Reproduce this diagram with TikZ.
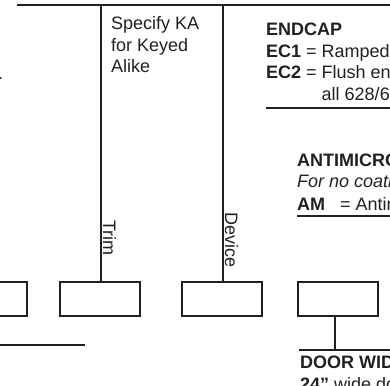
\documentclass[tikz,border=0pt]{standalone}
\usepackage{fontspec}
\setmainfont{Liberation Sans}
\definecolor{ink}{HTML}{231F20}

\tikzset{
  partbox/.style={draw=ink,line width=2pt,minimum width=80pt,minimum height=34pt,inner sep=0pt},
  lead/.style={ink,line width=2pt},
  note/.style={font=\fontsize{18}{21.7}\selectfont,text=ink,inner sep=0pt,anchor=base west},
  sidelabel/.style={note,rotate=-90,anchor=base}
}

\begin{document}
\begin{tikzpicture}[x=1pt,y=-1pt]
  \useasboundingbox (0,0) rectangle (390,385);
  \clip (0,0) rectangle (390,385);

  % the part boxes along the bottom row
  \node[partbox] (leftbox) at (-13.5,298.5) {};
  \node[partbox] (trimbox) at (99.5,298.5) {};
  \node[partbox] (devicebox) at (222,298.5) {};
  \node[partbox] (widthbox) at (338,298.5) {};

  % top rule and the two drops
  \coordinate (topL) at (17,5.5);
  \coordinate (topR) at (392,5.5);
  \coordinate (trimtop) at (101,5.5);
  \coordinate (devtop) at (223,5.5);
  \draw[lead] (topL) -- (topR);
  \draw[lead] (trimtop) -- (trimtop |- trimbox.north);
  \draw[lead] (devtop) -- (devtop |- devicebox.north);
  \node[sidelabel] (trimlab) at (103,238) {Trim};
  \node[sidelabel] (devlab) at (225,240) {Device};

  % cut-off note on the left
  \node[note] (stop) at (-2,80) {.};
  \coordinate (baseL) at (-2,345);
  \coordinate (baseR) at (85,345);
  \draw[lead] (baseL) -- (baseR);

  \foreach \txt [count=\i] in {Specify KA,for Keyed,Alike}
    \node[note] (ka\i) at (111,7.8+21.7*\i) {\txt};

  % endcap options
  \node[note] (endcap) at (266,36) {\textbf{ENDCAP}};
  \node[note] (ec1) at (266,57.5) {\textbf{EC1} = Ramped};
  \node[note] (ec2) at (266,79) {\textbf{EC2} = Flush end};
  \node[note] (ec3) at (266,100.5) {\phantom{\textbf{EC2} = }all 628/6};
  \coordinate (ecL) at (266,108);
  \coordinate (ecR) at (392,108);
  \draw[lead] (ecL) -- (ecR);

  % antimicrobial options
  \node[note] (anti) at (297,166) {\textbf{ANTIMICROBIAL}};
  \node[note] (anti1) at (297,187.5) {\textit{For no coating}};
  \node[note] (anti2) at (297,210.5) {\textbf{AM}\hspace{10pt} = Antimicrobial};
  \coordinate (amL) at (297,216);
  \coordinate (amR) at (392,216);
  \draw[lead] (amL) -- (amR);

  % door width
  \coordinate (dwL) at (299,349.5);
  \coordinate (dwR) at (392,349.5);
  \draw[lead] (dwL) -- (dwR);
  \draw[lead] (widthbox.south -| 335,0) -- (335,349.5);
  \node[note] (dw) at (300,368.3) {\textbf{DOOR WIDTH}};
  \node[note] (dw1) at (300,390) {\textbf{24”} wide door};
\end{tikzpicture}
\end{document}
